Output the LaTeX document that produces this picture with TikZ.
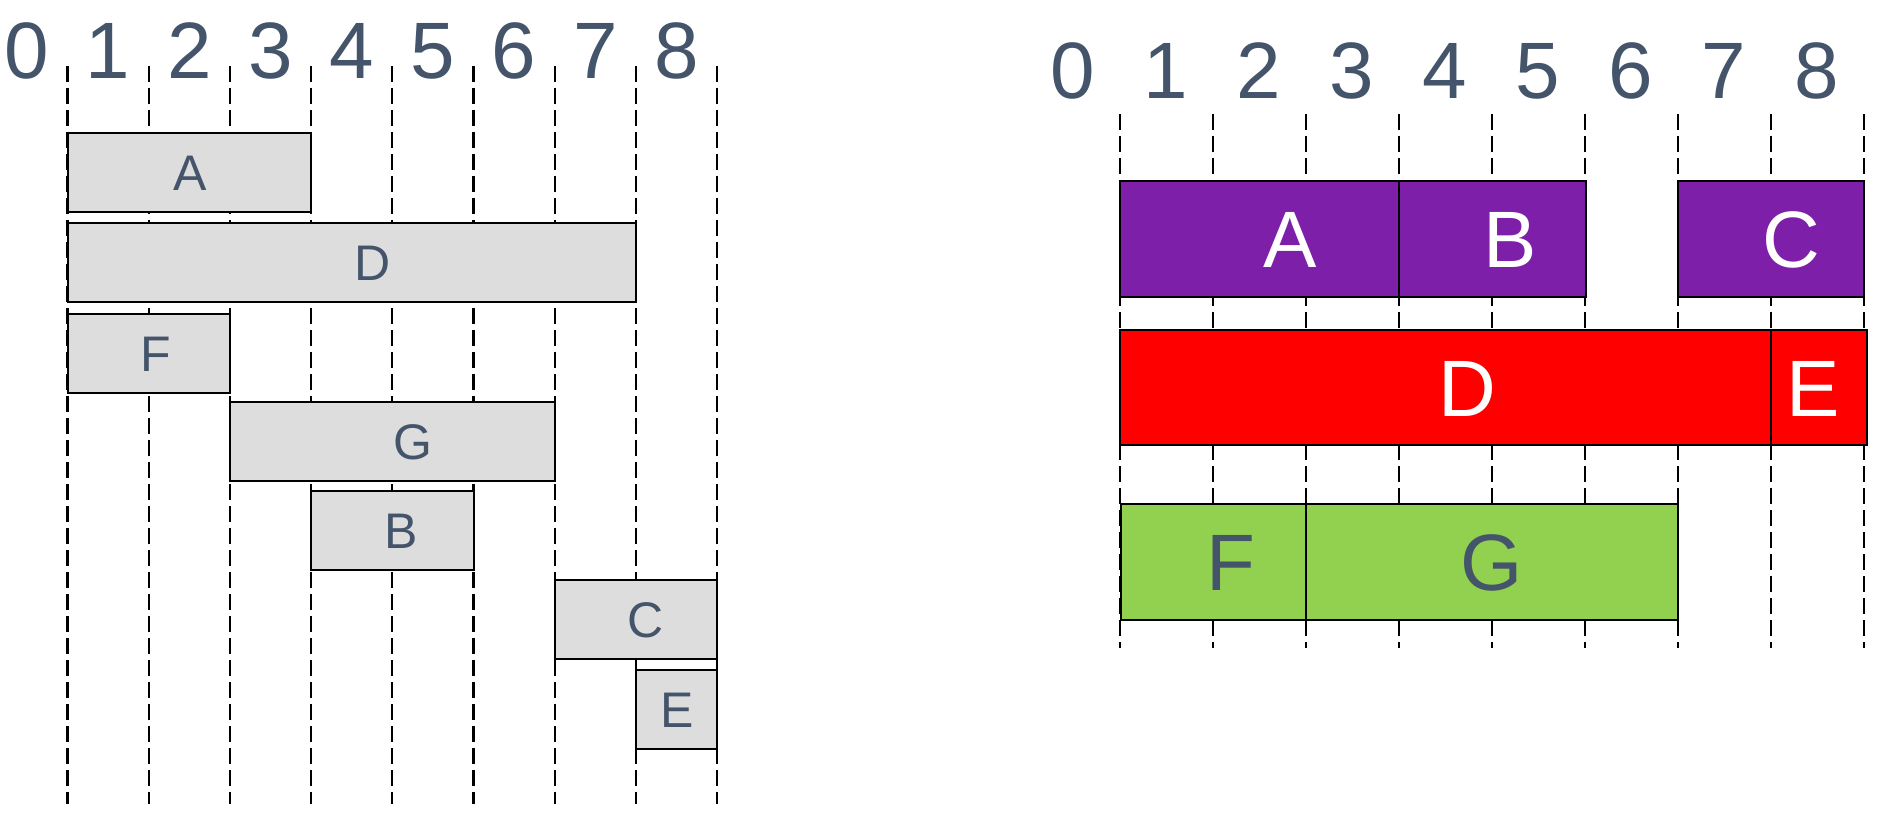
\documentclass[tikz,border=0pt]{standalone}
\usepackage{fontspec}
\setmainfont{Liberation Sans}
\definecolor{txt}{HTML}{44546A}
\definecolor{boxgray}{HTML}{DDDDDD}
\definecolor{purp}{HTML}{7E1FA9}
\definecolor{grn}{HTML}{92D050}
\definecolor{rd}{HTML}{FF0000}
\begin{document}
\begin{tikzpicture}[x=1pt,y=-1pt,
  grid/.style={draw=black,line width=2.1pt,dash pattern=on 16pt off 6pt},
  bar/.style={draw=black,line width=2pt,inner sep=0pt,outer sep=0pt},
  digit/.style={anchor=base,text=txt,font=\fontsize{80}{80}\selectfont,inner sep=0pt},
  lbl/.style={anchor=base,text=txt,font=\fontsize{50}{50}\selectfont,inner sep=0pt},
  wlbl/.style={anchor=base,text=white,font=\fontsize{80}{80}\selectfont,inner sep=0pt},
  blbl/.style={anchor=base,text=txt,font=\fontsize{80}{80}\selectfont,inner sep=0pt}]
\useasboundingbox (0,0) rectangle (1898,829);

% ---------- left diagram ----------
\foreach \i in {0,...,8} {
  \coordinate (lt\i) at ({67.5+81.2*\i},66);
  \coordinate (lb\i) at ({67.5+81.2*\i},804);
  \draw[grid] (lt\i) -- (lb\i);
  \node[digit] (ld\i) at ({27+81.2*\i},79) {\i};
}
\node[bar,fill=boxgray,minimum width=243.6pt,minimum height=79pt] (LA) at (189.3,172.2) {};
\node[bar,fill=boxgray,minimum width=568.4pt,minimum height=79pt] (LD) at (351.7,262.4) {};
\node[bar,fill=boxgray,minimum width=162.4pt,minimum height=79pt] (LF) at (148.7,353) {};
\node[bar,fill=boxgray,minimum width=324.8pt,minimum height=79pt] (LG) at (392.3,441.2) {};
\node[bar,fill=boxgray,minimum width=162.4pt,minimum height=79pt] (LB) at (392.3,530.5) {};
\node[bar,fill=boxgray,minimum width=162.4pt,minimum height=79pt] (LC) at (635.9,619.8) {};
\node[bar,fill=boxgray,minimum width=81.2pt,minimum height=79pt] (LE) at (676.5,709.2) {};
\node[lbl] (tLA) at (190,190.2) {A};
\node[lbl] (tLD) at (373,280.4) {D};
\node[lbl] (tLF) at (156,371) {F};
\node[lbl] (tLG) at (413,459.2) {G};
\node[lbl] (tLB) at (401,548.5) {B};
\node[lbl] (tLC) at (646,637.8) {C};
\node[lbl] (tLE) at (677,727.2) {E};

% ---------- right diagram ----------
\foreach \i in {0,...,8} {
  \coordinate (rt\i) at ({1119.7+93.06*\i},114);
  \coordinate (rb\i) at ({1119.7+93.06*\i},648);
  \draw[grid] (rt\i) -- (rb\i);
  \node[digit] (rd\i) at ({1072.5+93*\i},99) {\i};
}
% purple row
\node[bar,fill=purp,minimum width=279.2pt,minimum height=115.7pt] (RA) at (1259.3,238.85) {};
\node[bar,fill=purp,minimum width=187pt,minimum height=115.7pt] (RB) at (1492.4,238.85) {};
\node[bar,fill=purp,minimum width=186.1pt,minimum height=115.7pt] (RC) at (1771.15,238.85) {};
% red row
\node[bar,fill=rd,minimum width=651.4pt,minimum height=115.3pt] (RD) at (1445.4,387.65) {};
\node[bar,fill=rd,minimum width=96.1pt,minimum height=115.3pt] (RE) at (1819.15,387.65) {};
% green row
\node[bar,fill=grn,minimum width=185.3pt,minimum height=115.7pt] (RF) at (1213.15,561.85) {};
\node[bar,fill=grn,minimum width=372.3pt,minimum height=115.7pt] (RG) at (1491.95,561.85) {};
\node[wlbl] (tRA) at (1289.7,267.4) {A};
\node[wlbl] (tRB) at (1509.7,267.4) {B};
\node[wlbl] (tRC) at (1791.5,267.4) {C};
\node[wlbl] (tRD) at (1467.7,416.2) {D};
\node[wlbl] (tRE) at (1813.6,416.2) {E};
\node[blbl] (tRF) at (1230.6,590.4) {F};
\node[blbl] (tRG) at (1492,590.4) {G};
\end{tikzpicture}
\end{document}
